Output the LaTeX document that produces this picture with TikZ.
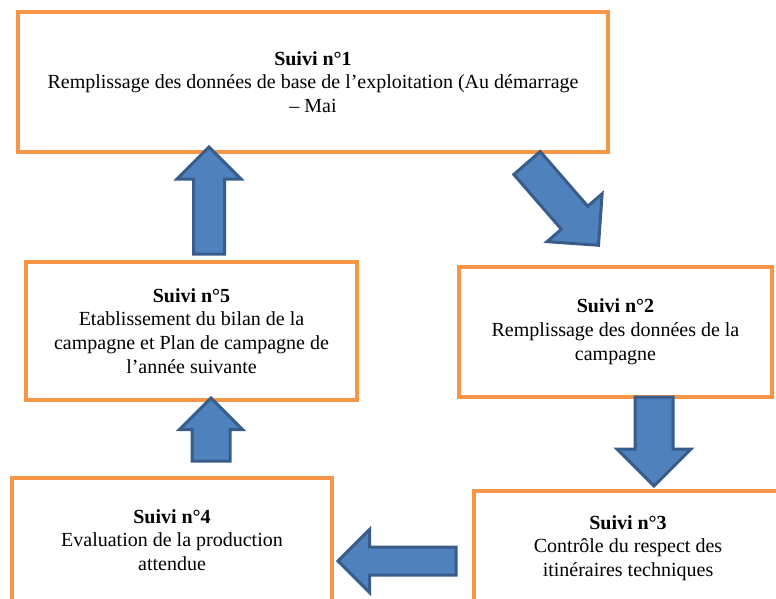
\documentclass[tikz,border=0pt]{standalone}
\usepackage{fontspec}
\setmainfont{Liberation Serif}
\usetikzlibrary{shapes.arrows}

\definecolor{boxorange}{HTML}{F79646}
\definecolor{arrowfill}{HTML}{4F81BD}
\definecolor{arrowline}{HTML}{385D8A}

\tikzset{
    suivibox/.style={draw=boxorange, line width=4pt, rectangle, inner sep=0pt, align=center,
        font=\fontsize{20}{23.8}\selectfont},
    blockarrow/.style={single arrow, draw=arrowline, fill=arrowfill, line width=3pt,
        single arrow tip angle=90, inner xsep=0pt, outer sep=0pt}
}

\begin{document}
\begin{tikzpicture}[x=1pt, y=-1pt]

    \useasboundingbox (0,0) rectangle (776,598);

    \node (s1) [suivibox, minimum width=590pt, minimum height=140pt] at (313,82)
        {\textbf{Suivi n°1}\\Remplissage des données de base de l’exploitation (Au démarrage\\– Mai};
    \node (s2) [suivibox, minimum width=313pt, minimum height=130pt] at (615.5,332)
        {\textbf{Suivi n°2}\\Remplissage des données de la\\campagne};
    \node (s3) [suivibox, minimum width=308pt, minimum height=114pt] at (628,548)
        {\textbf{Suivi n°3}\\Contrôle du respect des\\itinéraires techniques};
    \node (s4) [suivibox, minimum width=320pt, minimum height=124pt] at (172,540)
        {\textbf{Suivi n°4}\\Evaluation de la production\\attendue};
    \node (s5) [suivibox, minimum width=331pt, minimum height=138pt] at (191.5,331)
        {\textbf{Suivi n°5}\\Etablissement du bilan de la\\campagne et Plan de campagne de\\l’année suivante};

    % block arrows between the steps
    \node (a12) [blockarrow, anchor=tail, rotate=-49, minimum height=109pt, inner ysep=16pt,
        single arrow head extend=19pt] at (527,163) {};
    \node (a23) [blockarrow, anchor=tail, rotate=-90, minimum height=89pt, inner ysep=17.5pt,
        single arrow head extend=18pt] at (654,397) {};
    \node (a34) [blockarrow, anchor=tail, rotate=180, minimum height=118pt, inner ysep=12.5pt,
        single arrow head extend=17.5pt] at (456,561) {};
    \node (a45) [blockarrow, anchor=tail, rotate=90, minimum height=63pt, inner ysep=17.5pt,
        single arrow head extend=12.5pt] at (211,461) {};
    \node (a51) [blockarrow, anchor=tail, rotate=90, minimum height=107pt, inner ysep=14pt,
        single arrow head extend=16.5pt] at (209,254) {};

\end{tikzpicture}
\end{document}
